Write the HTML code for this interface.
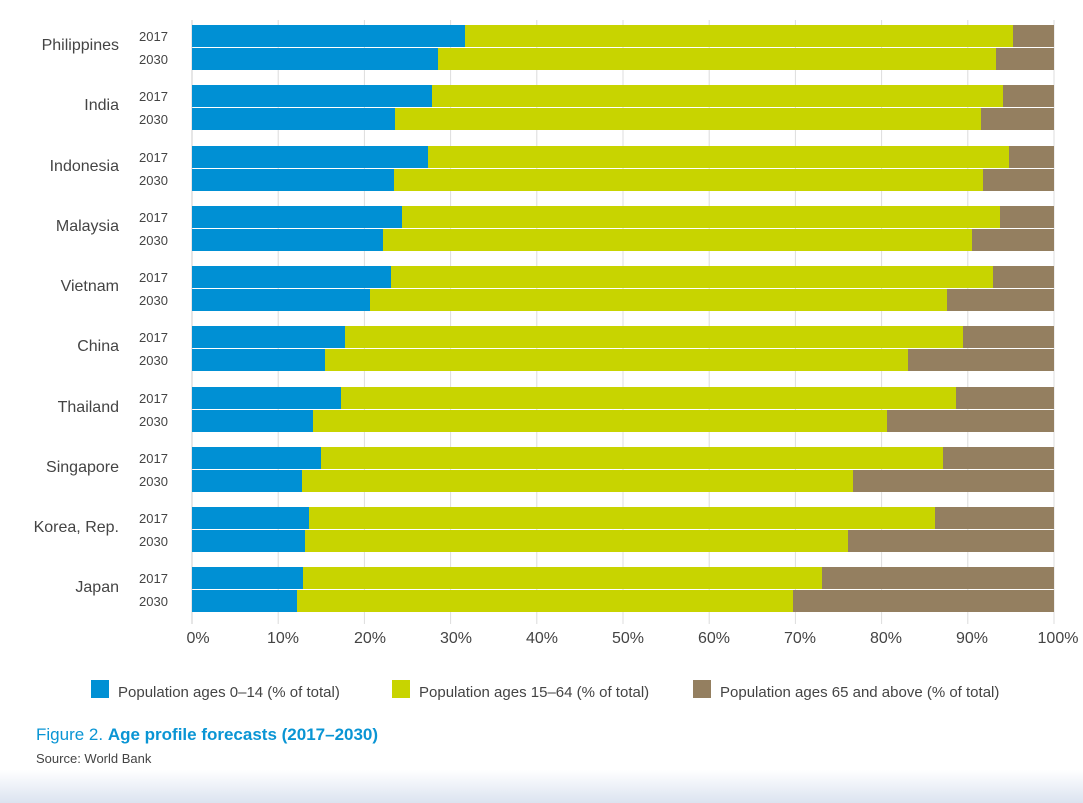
<!DOCTYPE html>
<html><head><meta charset="utf-8"><style>
body{margin:0;background:#fff;}
svg{display:block;font-family:"Liberation Sans",Arial,sans-serif;}
.b{fill:#0090d4}.g{fill:#c8d400}.r{fill:#947f60}
.c{font-size:16px;fill:#444;text-anchor:end}.y{font-size:13px;fill:#444}
</style></head><body>
<svg width="1083" height="803" xmlns="http://www.w3.org/2000/svg">
<defs><linearGradient id="bg" x1="0" y1="0" x2="0" y2="1"><stop offset="0" stop-color="#fff"/><stop offset="1" stop-color="#dbe3f0"/></linearGradient></defs>
<rect x="0" y="770" width="1083" height="33" fill="url(#bg)"/>
<g stroke="#dcdcdc" stroke-width="1">
<line x1="278.2" y1="20" x2="278.2" y2="624"/><line x1="364.4" y1="20" x2="364.4" y2="624"/><line x1="450.6" y1="20" x2="450.6" y2="624"/><line x1="536.8" y1="20" x2="536.8" y2="624"/><line x1="623" y1="20" x2="623" y2="624"/><line x1="709.2" y1="20" x2="709.2" y2="624"/><line x1="795.4" y1="20" x2="795.4" y2="624"/><line x1="881.6" y1="20" x2="881.6" y2="624"/><line x1="967.8" y1="20" x2="967.8" y2="624"/><line x1="1054" y1="20" x2="1054" y2="624"/>
</g>
<line x1="192" y1="20" x2="192" y2="624" stroke="#ccc"/>

<rect class="r" x="192" y="25" width="862" height="22"/><rect class="g" x="465" y="25" width="548" height="22"/><rect class="b" x="192" y="25" width="273" height="22"/>
<rect class="r" x="192" y="48" width="862" height="22"/><rect class="g" x="438" y="48" width="558" height="22"/><rect class="b" x="192" y="48" width="246" height="22"/>

<rect class="r" x="192" y="85" width="862" height="22"/><rect class="g" x="432" y="85" width="571" height="22"/><rect class="b" x="192" y="85" width="240" height="22"/>
<rect class="r" x="192" y="108" width="862" height="22"/><rect class="g" x="395" y="108" width="586" height="22"/><rect class="b" x="192" y="108" width="203" height="22"/>

<rect class="r" x="192" y="146" width="862" height="22"/><rect class="g" x="428" y="146" width="581" height="22"/><rect class="b" x="192" y="146" width="236" height="22"/>
<rect class="r" x="192" y="169" width="862" height="22"/><rect class="g" x="394" y="169" width="589" height="22"/><rect class="b" x="192" y="169" width="202" height="22"/>

<rect class="r" x="192" y="206" width="862" height="22"/><rect class="g" x="402" y="206" width="598" height="22"/><rect class="b" x="192" y="206" width="210" height="22"/>
<rect class="r" x="192" y="229" width="862" height="22"/><rect class="g" x="383" y="229" width="589" height="22"/><rect class="b" x="192" y="229" width="191" height="22"/>

<rect class="r" x="192" y="266" width="862" height="22"/><rect class="g" x="391" y="266" width="602" height="22"/><rect class="b" x="192" y="266" width="199" height="22"/>
<rect class="r" x="192" y="289" width="862" height="22"/><rect class="g" x="370" y="289" width="577" height="22"/><rect class="b" x="192" y="289" width="178" height="22"/>

<rect class="r" x="192" y="326" width="862" height="22"/><rect class="g" x="345" y="326" width="618" height="22"/><rect class="b" x="192" y="326" width="153" height="22"/>
<rect class="r" x="192" y="349" width="862" height="22"/><rect class="g" x="325" y="349" width="583" height="22"/><rect class="b" x="192" y="349" width="133" height="22"/>

<rect class="r" x="192" y="387" width="862" height="22"/><rect class="g" x="341" y="387" width="615" height="22"/><rect class="b" x="192" y="387" width="149" height="22"/>
<rect class="r" x="192" y="410" width="862" height="22"/><rect class="g" x="313" y="410" width="574" height="22"/><rect class="b" x="192" y="410" width="121" height="22"/>

<rect class="r" x="192" y="447" width="862" height="22"/><rect class="g" x="321" y="447" width="622" height="22"/><rect class="b" x="192" y="447" width="129" height="22"/>
<rect class="r" x="192" y="470" width="862" height="22"/><rect class="g" x="302" y="470" width="551" height="22"/><rect class="b" x="192" y="470" width="110" height="22"/>

<rect class="r" x="192" y="507" width="862" height="22"/><rect class="g" x="309" y="507" width="626" height="22"/><rect class="b" x="192" y="507" width="117" height="22"/>
<rect class="r" x="192" y="530" width="862" height="22"/><rect class="g" x="305" y="530" width="543" height="22"/><rect class="b" x="192" y="530" width="113" height="22"/>

<rect class="r" x="192" y="567" width="862" height="22"/><rect class="g" x="303" y="567" width="519" height="22"/><rect class="b" x="192" y="567" width="111" height="22"/>
<rect class="r" x="192" y="590" width="862" height="22"/><rect class="g" x="297" y="590" width="496" height="22"/><rect class="b" x="192" y="590" width="105" height="22"/>

<text class="c" x="119" y="50">Philippines</text><text class="y" x="139" y="41">2017</text><text class="y" x="139" y="64">2030</text>
<text class="c" x="119" y="110">India</text><text class="y" x="139" y="101">2017</text><text class="y" x="139" y="124">2030</text>
<text class="c" x="119" y="171">Indonesia</text><text class="y" x="139" y="162">2017</text><text class="y" x="139" y="185">2030</text>
<text class="c" x="119" y="231">Malaysia</text><text class="y" x="139" y="222">2017</text><text class="y" x="139" y="245">2030</text>
<text class="c" x="119" y="291">Vietnam</text><text class="y" x="139" y="282">2017</text><text class="y" x="139" y="305">2030</text>
<text class="c" x="119" y="351">China</text><text class="y" x="139" y="342">2017</text><text class="y" x="139" y="365">2030</text>
<text class="c" x="119" y="412">Thailand</text><text class="y" x="139" y="403">2017</text><text class="y" x="139" y="426">2030</text>
<text class="c" x="119" y="472">Singapore</text><text class="y" x="139" y="463">2017</text><text class="y" x="139" y="486">2030</text>
<text class="c" x="119" y="532">Korea, Rep.</text><text class="y" x="139" y="523">2017</text><text class="y" x="139" y="546">2030</text>
<text class="c" x="119" y="592">Japan</text><text class="y" x="139" y="583">2017</text><text class="y" x="139" y="606">2030</text>

<g font-size="16" fill="#444" text-anchor="middle">
<text x="198" y="643">0%</text><text x="283" y="643">10%</text><text x="370" y="643">20%</text><text x="456" y="643">30%</text><text x="542" y="643">40%</text><text x="628" y="643">50%</text><text x="714" y="643">60%</text><text x="800" y="643">70%</text><text x="886" y="643">80%</text><text x="972" y="643">90%</text><text x="1058" y="643">100%</text>
</g>
<rect x="91" y="680" width="18" height="18" fill="#0090d4"/>
<rect x="392" y="680" width="18" height="18" fill="#c8d400"/>
<rect x="693" y="680" width="18" height="18" fill="#947f60"/>
<g font-size="15" fill="#444">
<text x="118" y="697">Population ages 0–14 (% of total)</text>
<text x="419" y="697">Population ages 15–64 (% of total)</text>
<text x="720" y="697">Population ages 65 and above (% of total)</text>
</g>
<text x="36" y="740" font-size="17" fill="#0a95d4">Figure 2. <tspan font-weight="bold">Age profile forecasts (2017–2030)</tspan></text>
<text x="36" y="763" font-size="13" fill="#444">Source: World Bank</text>
</svg>
</body></html>
